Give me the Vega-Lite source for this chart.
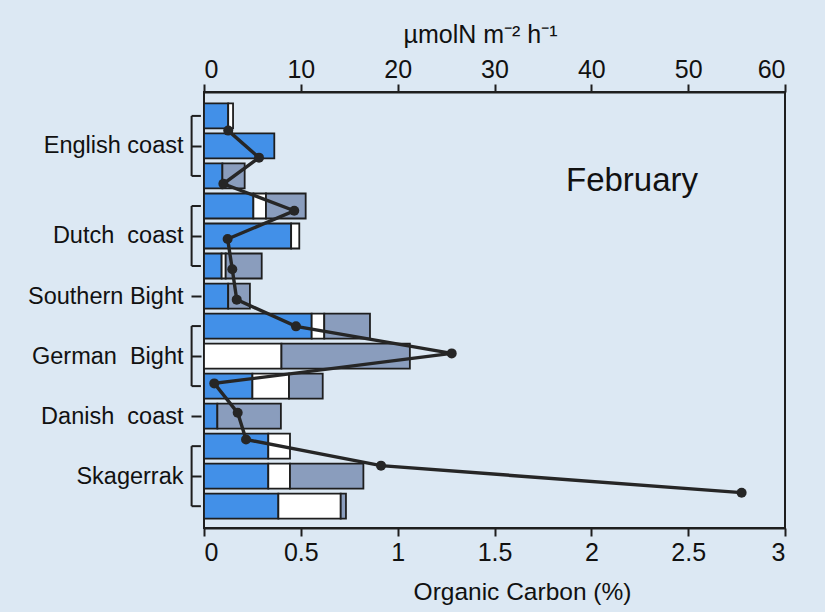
{
  "$schema": "https://vega.github.io/schema/vega-lite/v6.json",
  "autosize": "none",
  "width": 581,
  "height": 436,
  "padding": {"left": 204, "top": 92, "right": 40, "bottom": 84},
  "background": "#dce8f3",
  "config": {
    "font": "Liberation Sans",
    "view": {"stroke": "#1e1e1e", "strokeWidth": 2},
    "axis": {"domainColor": "#1e1e1e", "domainWidth": 2, "tickColor": "#1e1e1e", "tickWidth": 2, "labelColor": "#111", "titleColor": "#111", "grid": false, "titleFontWeight": "normal", "labelFont": "Liberation Sans", "titleFont": "Liberation Sans"}
  },
  "datasets": {
    "bars": [
      {"row": 1, "comp": "blue", "ord": 1, "v": 2.5},
      {"row": 1, "comp": "white", "ord": 2, "v": 0.5},
      {"row": 2, "comp": "blue", "ord": 1, "v": 7.26},
      {"row": 3, "comp": "blue", "ord": 1, "v": 1.9},
      {"row": 3, "comp": "gray", "ord": 3, "v": 2.3},
      {"row": 4, "comp": "blue", "ord": 1, "v": 5.1},
      {"row": 4, "comp": "white", "ord": 2, "v": 1.3},
      {"row": 4, "comp": "gray", "ord": 3, "v": 4.1},
      {"row": 5, "comp": "blue", "ord": 1, "v": 9.0},
      {"row": 5, "comp": "white", "ord": 2, "v": 0.84},
      {"row": 6, "comp": "blue", "ord": 1, "v": 1.82},
      {"row": 6, "comp": "white", "ord": 2, "v": 0.42},
      {"row": 6, "comp": "gray", "ord": 3, "v": 3.72},
      {"row": 7, "comp": "blue", "ord": 1, "v": 2.5},
      {"row": 7, "comp": "gray", "ord": 3, "v": 2.24},
      {"row": 8, "comp": "blue", "ord": 1, "v": 11.12},
      {"row": 8, "comp": "white", "ord": 2, "v": 1.3},
      {"row": 8, "comp": "gray", "ord": 3, "v": 4.72},
      {"row": 9, "comp": "white", "ord": 2, "v": 8.0},
      {"row": 9, "comp": "gray", "ord": 3, "v": 13.26},
      {"row": 10, "comp": "blue", "ord": 1, "v": 5.0},
      {"row": 10, "comp": "white", "ord": 2, "v": 3.78},
      {"row": 10, "comp": "gray", "ord": 3, "v": 3.48},
      {"row": 11, "comp": "blue", "ord": 1, "v": 1.38},
      {"row": 11, "comp": "gray", "ord": 3, "v": 6.56},
      {"row": 12, "comp": "blue", "ord": 1, "v": 6.64},
      {"row": 12, "comp": "white", "ord": 2, "v": 2.24},
      {"row": 13, "comp": "blue", "ord": 1, "v": 6.64},
      {"row": 13, "comp": "white", "ord": 2, "v": 2.24},
      {"row": 13, "comp": "gray", "ord": 3, "v": 7.58},
      {"row": 14, "comp": "blue", "ord": 1, "v": 7.68},
      {"row": 14, "comp": "white", "ord": 2, "v": 6.44},
      {"row": 14, "comp": "gray", "ord": 3, "v": 0.54}
    ],
    "carbon": [
      {"pos": 1.49, "oc": 0.125},
      {"pos": 2.39, "oc": 0.284},
      {"pos": 3.26, "oc": 0.10},
      {"pos": 4.16, "oc": 0.466},
      {"pos": 5.10, "oc": 0.122},
      {"pos": 6.11, "oc": 0.146},
      {"pos": 7.12, "oc": 0.169},
      {"pos": 8.01, "oc": 0.475},
      {"pos": 8.91, "oc": 1.279},
      {"pos": 9.91, "oc": 0.053},
      {"pos": 10.89, "oc": 0.174},
      {"pos": 11.78, "oc": 0.217},
      {"pos": 12.65, "oc": 0.914},
      {"pos": 13.55, "oc": 2.776}
    ],
    "groups": [
      {"group": "English coast", "first": 1, "last": 3},
      {"group": "Dutch coast", "first": 4, "last": 6},
      {"group": "German Bight", "first": 8, "last": 10},
      {"group": "Skagerrak", "first": 12, "last": 14}
    ]
  },
  "layer": [
    {
      "data": {"name": "bars"},
      "mark": {"type": "bar", "orient": "horizontal", "height": 25, "stroke": "#1e1e1e", "strokeWidth": 1.8},
      "encoding": {
        "x": {"field": "v", "type": "quantitative", "stack": "zero",
              "scale": {"domain": [0, 60], "nice": false, "zero": true},
              "axis": {"orient": "top", "values": [0, 10, 20, 30, 40, 50, 60], "tickSize": 8, "labelFontSize": 25, "labelPadding": 2, "title": "µmolN m⁻² h⁻¹", "titleFontSize": 25, "titlePadding": 10, "titleX": 276}},
        "y": {"field": "row", "type": "quantitative",
              "scale": {"domain": [0.37, 14.56], "reverse": true, "nice": false, "zero": false},
              "axis": {"values": [2, 5, 7, 9, 11, 13], "domain": false, "offset": 3, "tickSize": 10, "labelPadding": 8, "labelFontSize": 23.5, "title": null,
                       "labelExpr": "datum.value == 2 ? 'English coast' : datum.value == 5 ? 'Dutch\u00a0 coast' : datum.value == 7 ? 'Southern Bight' : datum.value == 9 ? 'German\u00a0 Bight' : datum.value == 11 ? 'Danish\u00a0 coast' : 'Skagerrak'"}},
        "color": {"field": "comp", "type": "nominal", "scale": {"domain": ["blue", "white", "gray"], "range": ["#4290e8", "#ffffff", "#8a9dbd"]}, "legend": null},
        "order": {"field": "ord", "type": "quantitative"}
      }
    },
    {
      "data": {"name": "groups"},
      "mark": {"type": "rule", "stroke": "#1e1e1e", "strokeWidth": 2},
      "encoding": {
        "x": {"datum": -0.064, "type": "quantitative", "scale": {"domain": [0, 3], "nice": false}, "axis": null},
        "y": {"field": "first", "type": "quantitative"},
        "y2": {"field": "last"}
      }
    },
    {
      "data": {"name": "groups"},
      "mark": {"type": "rule", "stroke": "#1e1e1e", "strokeWidth": 2},
      "encoding": {
        "x": {"datum": -0.064, "type": "quantitative", "scale": {"domain": [0, 3], "nice": false}, "axis": null},
        "x2": {"datum": -0.016},
        "y": {"field": "first", "type": "quantitative"}
      }
    },
    {
      "data": {"name": "groups"},
      "mark": {"type": "rule", "stroke": "#1e1e1e", "strokeWidth": 2},
      "encoding": {
        "x": {"datum": -0.064, "type": "quantitative", "scale": {"domain": [0, 3], "nice": false}, "axis": null},
        "x2": {"datum": -0.016},
        "y": {"field": "last", "type": "quantitative"}
      }
    },
    {
      "data": {"name": "carbon"},
      "mark": {"type": "line", "color": "#262626", "strokeWidth": 3.4, "point": {"filled": true, "size": 100, "color": "#262626"}},
      "encoding": {
        "x": {"field": "oc", "type": "quantitative",
              "scale": {"domain": [0, 3], "nice": false},
              "axis": {"orient": "bottom", "values": [0, 0.5, 1, 1.5, 2, 2.5, 3], "format": "~g", "tickSize": 8, "labelFontSize": 25, "labelPadding": 4, "title": "Organic Carbon (%)", "titleFontSize": 24.5, "titlePadding": 15, "titleX": 318}},
        "y": {"field": "pos", "type": "quantitative"},
        "order": {"field": "pos", "type": "quantitative"}
      }
    },
    {
      "data": {"values": [{"label": "February", "oc": 2.21, "pos": 3.17}]},
      "mark": {"type": "text", "fontSize": 33, "color": "#111111", "font": "Liberation Sans"},
      "encoding": {
        "x": {"field": "oc", "type": "quantitative", "scale": {"domain": [0, 3], "nice": false}, "axis": null},
        "y": {"field": "pos", "type": "quantitative"},
        "text": {"field": "label"}
      }
    }
  ],
  "resolve": {"scale": {"x": "independent"}}
}
